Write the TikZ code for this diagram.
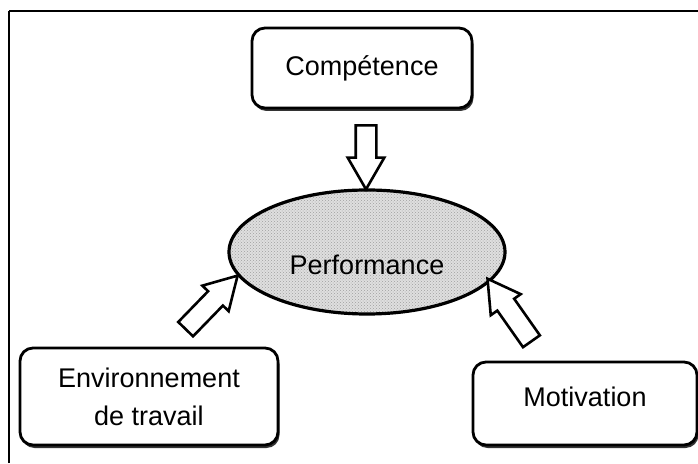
\documentclass[tikz,border=0pt]{standalone}
\usepackage{fontspec}
\setmainfont{Liberation Sans}
\usetikzlibrary{shapes.geometric, shapes.arrows, calc, patterns, shadows}

\tikzset{
	box/.style={draw, line width=2.8pt, rounded corners=13pt, fill=white, align=center,
		font=\fontsize{27}{38}\selectfont,
		drop shadow={shadow xshift=1.5pt, shadow yshift=-3pt, fill=black!80, opacity=1}},
	hollow arrow/.style={single arrow, draw, line width=2.6pt, fill=white,
		inner xsep=0pt, inner ysep=9pt, minimum width=34pt,
		single arrow head extend=8pt, single arrow tip angle=60},
}

% block arrow: name, from, to
\newcommand{\blockarrow}[3]{%
	\path let \p1 = ($(#3)-(#2)$), \n1 = {atan2(\y1,\x1)}, \n2 = {veclen(\x1,\y1)} in
		node[hollow arrow, minimum height=\n2, rotate=\n1] (#1) at ($(#2)!0.5!(#3)$) {};}

\begin{document}
\begin{tikzpicture}[x=1pt, y=1pt]
		\useasboundingbox (0,0) rectangle (698,463);
		\draw[line width=1.8pt] (9,0) -- (9,452);
		\draw[line width=2.6pt] (9,452) -- (698,452);
		
		\node[ellipse, draw, line width=3.2pt, minimum width=276pt, minimum height=124pt,
			preaction={fill=gray!25}, pattern=crosshatch dots, pattern color=gray!75,
			font=\fontsize{27}{32}\selectfont, text height=45pt] (perf) at (367,211) {Performance};
		
		\node[box, minimum width=220pt, minimum height=80pt] (comp) at (362,395) {Compétence};
		\node[box, minimum width=258pt, minimum height=97pt] (env) at (149,66.5) {Environnement\\de travail};
		\node[box, minimum width=224pt, minimum height=83pt, text depth=14pt] (motiv) at (585,59.5) {Motivation};
		
		\coordinate (comptail) at ($(comp.south)+(4,-7)$);
		\coordinate (comptip) at ($(perf.north)+(-1,8)$);
		\coordinate (envtail) at ($(env.north east)+(-100,11)$);
		\coordinate (envtip) at ($(perf.west)+(4,-30)$);
		\coordinate (motivtail) at ($(motiv.north west)+(65,12)$);
		\coordinate (motivtip) at ($(perf.east)+(-14,-34)$);
		
		\blockarrow{comparrow}{comptail}{comptip}
		\blockarrow{envarrow}{envtail}{envtip}
		\blockarrow{motivarrow}{motivtail}{motivtip}
	\end{tikzpicture}
\end{document}
